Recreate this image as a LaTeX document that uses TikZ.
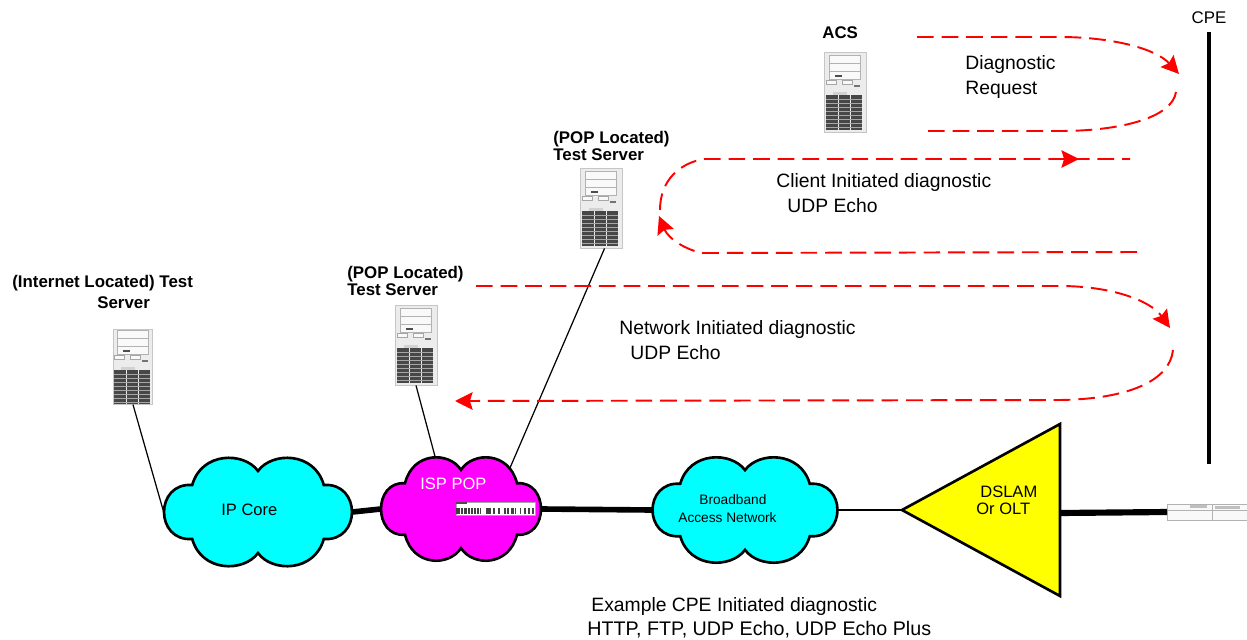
\documentclass[tikz,border=0pt]{standalone}
\usepackage{fontspec}
\setmainfont{Liberation Sans}
\usetikzlibrary{arrows.meta, shapes.geometric}
\definecolor{netcyan}{RGB}{0,255,255}
\definecolor{popmagenta}{RGB}{255,0,255}
\definecolor{dslamyellow}{RGB}{255,255,0}
\tikzset{
  serverbox/.style={rectangle, inner sep=0pt, minimum width=#1*0.84cm, minimum height=#1*1.6cm,
    fill=gray!15, draw=gray!45, line width=0.5pt,
    path picture={
      \begin{scope}[shift={(path picture bounding box.center)}, scale=#1]
        \foreach \y in {-37,-29,-21} \draw[gray!60, fill=gray!5, line width=0.3pt] (-16,\y) rectangle (15,\y+8);
        \fill[black!70] (-10,-17) rectangle (-3,-15);
        \draw[gray!70, fill=gray!5, line width=0.3pt] (-19,-12) rectangle (-9,-8);
        \draw[gray!70, fill=gray!5, line width=0.3pt] (-3,-12) rectangle (7,-8);
        \fill[black!55] (9,-7) rectangle (15,-5);
        \fill[black!72] (-19,3) rectangle (-7,38);
        \fill[black!72] (-6,3) rectangle (5,38);
        \fill[black!72] (6,3) rectangle (17,38);
        \fill[gray!35] (-12,0) rectangle (2,3);
        \foreach \y in {7,11,...,35} \draw[gray!70, line width=0.3pt] (-19,\y) -- (17,\y);
      \end{scope}}},
  serverbox/.default=1,
  cloudspot/.style={ellipse, inner sep=0pt},
  netcloud/.pic={
    \draw[fill=#1, draw=black, line width=1.5pt] (-.7,-.5)
      .. controls (-.6,-1.12) and (-.15,-1.12) .. (0,-.76)
      .. controls (.15,-1.12) and (.6,-1.12) .. (.7,-.5)
      .. controls (1.1,-.55) and (1.1,.55) .. (.7,.5)
      .. controls (.6,1.12) and (.15,1.12) .. (0,.76)
      .. controls (-.15,1.12) and (-.6,1.12) .. (-.7,.5)
      .. controls (-1.1,.55) and (-1.1,-.55) .. cycle;
  },
  thinlink/.style={black, line width=0.7pt},
  thicklink/.style={black, line width=3.2pt},
  reddash/.style={red, line width=1.1pt, dash pattern=on 9.5pt off 4.5pt},
  redtip/.style={-{Stealth[length=10pt, width=10pt, inset=1.5pt]}},
  lbl/.style={font=\fontsize{11}{13}\selectfont, inner sep=0pt, anchor=base west},
  boldlbl/.style={font=\fontsize{9.6}{11}\selectfont\bfseries, inner sep=0pt, anchor=base west},
  cloudlbl/.style={font=\fontsize{9.4}{11}\selectfont, inner sep=0pt, anchor=base west},
}
\begin{document}
\begin{tikzpicture}[x=0.02cm, y=-0.02cm]
\useasboundingbox (0,0) rectangle (1247,639);

% servers
\node[serverbox] (acs) at (845,92) {};
\node[serverbox] (popupper) at (601,208) {};
\node[serverbox] (poplower) at (416,345) {};
\node[serverbox=0.93] (internet) at (133,367) {};

% clouds are drawn after the links
\node[cloudspot, minimum width=3.76cm, minimum height=2.16cm] (ipcore) at (258,512) {};
\node[cloudspot, minimum width=3.2cm, minimum height=2.06cm] (isppop) at (461,509) {};
\node[cloudspot, minimum width=3.7cm, minimum height=2.1cm] (broadband) at (745,510) {};
\coordinate (dslamtip) at (902,510);
\coordinate (dslamtop) at (1060,424);
\coordinate (dslambot) at (1060,596);
\coordinate (dslamout) at (1060,513);

% cpe
\node[rectangle, inner sep=0pt, minimum width=1.7cm, minimum height=0.32cm, anchor=west, draw=gray!60, fill=gray!5, line width=0.5pt] (modem) at (1167,512) {};
\draw[gray!60, line width=0.4pt] (1167,510) -- (1247,510);
\draw[gray!60, line width=0.4pt] (1212,504) -- (1212,520);
\fill[gray!50] (1190,505) rectangle (1207,508);
\fill[gray!50] (1215,506) rectangle (1240,509);
\node[font=\fontsize{9.6}{11}\selectfont, inner sep=0pt] (cpelabel) at (1209,18) {CPE};
\coordinate (cpetop) at (1209,32);
\coordinate (cpebot) at (1209,464);
\draw[black, line width=2.3pt] (cpetop) -- (cpebot);

% links
\draw[thinlink] (internet.south) -- (ipcore.west);
\draw[thinlink] (poplower.south) -- (isppop.117);
\draw[thinlink] (popupper.275) -- (isppop.40);
\draw[thicklink] (ipcore.east) -- (isppop.west);
\draw[thicklink] (isppop.east) -- (broadband.west);
\draw[black, line width=1.5pt] (broadband.east) -- (dslamtip);
\draw[black, line width=3.5pt] (dslamout) -- (modem.west);

\pic[x=1.88cm, y=-1.08cm] at (ipcore) {netcloud=netcyan};
\pic[x=1.6cm, y=-1.03cm] at (isppop) {netcloud=popmagenta};
\pic[x=1.85cm, y=-1.05cm] at (broadband) {netcloud=netcyan};
\draw[fill=dslamyellow, line width=1.5pt, line join=miter] (dslamtip) -- (dslamtop) -- (dslambot) -- cycle;

% isp switch
\node[rectangle, inner sep=0pt, minimum width=1.58cm, minimum height=0.25cm, anchor=north west, fill=white, draw=gray!70, line width=0.3pt] (ispswitch) at (456,502) {};
\foreach \x/\w in {456/4, 461/2, 464/3, 468/2, 471/2, 474/2, 477/2, 480/1, 486/5, 493/2, 498/2, 504/2, 507/2, 511/3, 515/1, 520/1, 524/2, 528/2, 532/2}
  \fill[black!75] (\x,508) rectangle (\x+\w,514);
\fill[black!70] (456,502) rectangle (467,504);

% red flows
\coordinate (reqa) at (917,37);
\coordinate (reqb) at (1179,74);
\coordinate (reqc) at (1176,92);
\coordinate (reqd) at (928,131);
\draw[reddash, redtip] (reqa) -- (1060,37) .. controls (1110,37) and (1155,48) .. (reqb);
\draw[reddash] (reqd) -- (1060,131) .. controls (1120,131) and (1172,118) .. (reqc);

\coordinate (cliena) at (1130,159);
\coordinate (clienb) at (660,210);
\coordinate (clienc) at (1137,252);
\coordinate (cliend) at (659,216);
\draw[reddash] (clienb) .. controls (660,180) and (680,163) .. (704,159) -- (cliena);
\draw[red, redtip, line width=1.1pt] (1060,159) -- (1079,159);
\draw[reddash, redtip] (clienc) -- (703,253) .. controls (685,250) and (668,238) .. (cliend);

\coordinate (neta) at (476,286);
\coordinate (netb) at (1170,328);
\coordinate (netc) at (1173,350);
\coordinate (netd) at (455,401);
\draw[reddash, redtip] (neta) -- (1060,286) .. controls (1110,286) and (1150,300) .. (netb);
\draw[reddash, redtip] (netc) .. controls (1170,380) and (1130,399) .. (1060,400) -- (netd);

% labels
\node[boldlbl] (acslabel) at (822,38) {ACS};
\node[boldlbl] (popupperone) at (553,143) {(POP Located)};
\node[boldlbl] (popuppertwo) at (553,160) {Test Server};
\node[boldlbl] (poplowerone) at (347,278) {(POP Located)};
\node[boldlbl] (poplowertwo) at (347,295) {Test Server};
\node[boldlbl] (internetone) at (12,287) {(Internet Located) Test};
\node[boldlbl] (internettwo) at (97,308) {Server};
\node[lbl] (reqone) at (965,69) {Diagnostic};
\node[lbl] (reqtwo) at (965,94) {Request};
\node[lbl] (clientone) at (776,187) {Client Initiated diagnostic};
\node[lbl] (clienttwo) at (787,212) {UDP Echo};
\node[lbl] (netone) at (619,334) {Network Initiated diagnostic};
\node[lbl] (nettwo) at (630,359) {UDP Echo};
\node[lbl] (cpeone) at (591,611) {Example CPE Initiated diagnostic};
\node[lbl, font=\fontsize{11.2}{13}\selectfont] (cpetwo) at (587,635) {HTTP, FTP, UDP Echo, UDP Echo Plus};
\node[cloudlbl] (ipcorelabel) at (221,515) {IP Core};
\node[cloudlbl, text=white] (isplabel) at (420,489) {ISP POP};
\node[cloudlbl, font=\fontsize{7.8}{9}\selectfont] (bbone) at (699,504) {Broadband};
\node[cloudlbl, font=\fontsize{7.8}{9}\selectfont] (bbtwo) at (678,522) {Access Network};
\node[cloudlbl] (dslamone) at (980,497) {DSLAM};
\node[cloudlbl] (dslamtwo) at (976,514) {Or OLT};
\end{tikzpicture}
\end{document}
